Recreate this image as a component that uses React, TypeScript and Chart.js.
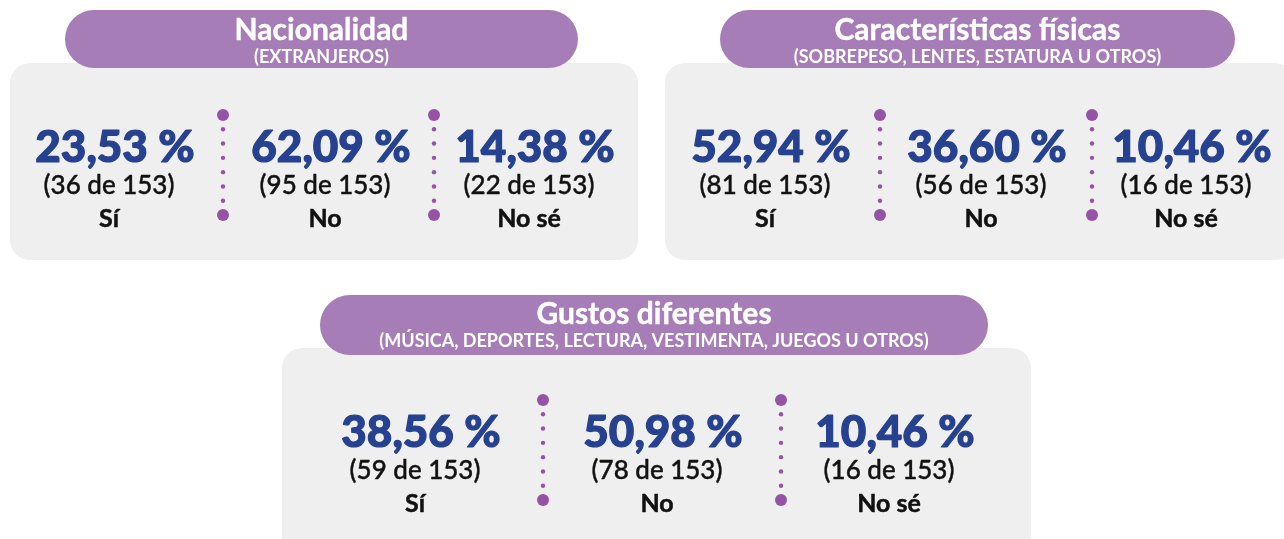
import React, { useEffect, useRef } from "react";
import { Chart, registerables } from "chart.js";

Chart.register(...registerables);

// ---- Data ----
const TOTAL = 153;
const answers = ["Sí", "No", "No sé"];
const titles = ["Nacionalidad", "Características físicas", "Gustos diferentes"];
const subtitles = [
  "(EXTRANJEROS)",
  "(SOBREPESO, LENTES, ESTATURA U OTROS)",
  "(MÚSICA, DEPORTES, LECTURA, VESTIMENTA, JUEGOS U OTROS)",
];
const nacionalidadPct = [23.53, 62.09, 14.38];
const nacionalidadCount = [36, 95, 22];
const fisicasPct = [52.94, 36.6, 10.46];
const fisicasCount = [81, 56, 16];
const gustosPct = [38.56, 50.98, 10.46];
const gustosCount = [59, 78, 16];

const groupPct = [nacionalidadPct, fisicasPct, gustosPct];
const groupCount = [nacionalidadCount, fisicasCount, gustosCount];

// ---- Layout (positions / styles only) ----
const W = 1284;
const H = 539;
const PURPLE_PILL = "#a77db8";
const PANEL_GRAY = "#efefef";
const DOT = "#9453a4";
const BLUE = "#26418f";
const FONT = "Lato";

type Layout = {
  panel: [number, number, number, number];
  pill: [number, number, number, number];
  titleY: number;
  subY: number;
  cols: number[];
  seps: number[];
  dy: number;
};

const layouts: Layout[] = [
  { panel: [10, 63, 628, 197], pill: [65, 10, 513, 58], titleY: 40, subY: 63, cols: [115, 331, 535], seps: [223, 434], dy: 0 },
  { panel: [665, 63, 630, 197], pill: [720, 10, 515, 58], titleY: 40, subY: 63, cols: [771, 987, 1192], seps: [880, 1092], dy: 0 },
  { panel: [282, 348, 749, 210], pill: [320, 295, 668, 60], titleY: 324, subY: 347, cols: [421, 663, 895], seps: [543, 781], dy: 285 },
];

const fmtPct = (v: number) => v.toFixed(2).replace(".", ",") + " %";

function roundRect(ctx: CanvasRenderingContext2D, x: number, y: number, w: number, h: number, r: number) {
  ctx.beginPath();
  ctx.moveTo(x + r, y);
  ctx.lineTo(x + w - r, y);
  ctx.arcTo(x + w, y, x + w, y + r, r);
  ctx.lineTo(x + w, y + h - r);
  ctx.arcTo(x + w, y + h, x + w - r, y + h, r);
  ctx.lineTo(x + r, y + h);
  ctx.arcTo(x, y + h, x, y + h - r, r);
  ctx.lineTo(x, y + r);
  ctx.arcTo(x, y, x + r, y, r);
  ctx.closePath();
}

function drawText(
  ctx: CanvasRenderingContext2D,
  text: string,
  x: number,
  y: number,
  font: string,
  color: string,
  sx = 1,
  stroke = 0
) {
  ctx.save();
  ctx.font = font;
  ctx.fillStyle = color;
  ctx.textAlign = "center";
  ctx.textBaseline = "alphabetic";
  ctx.translate(x, y);
  ctx.scale(sx, 1);
  if (stroke > 0) {
    ctx.strokeStyle = color;
    ctx.lineWidth = stroke;
    ctx.lineJoin = "round";
    ctx.strokeText(text, 0, 0);
  }
  ctx.fillText(text, 0, 0);
  ctx.restore();
}

function separatorPoints() {
  const big: { x: number; y: number }[] = [];
  const small: { x: number; y: number }[] = [];
  layouts.forEach((l) => {
    l.seps.forEach((sx) => {
      const top = 115 + l.dy;
      const bottom = 215 + l.dy;
      big.push({ x: sx, y: top }, { x: sx, y: bottom });
      for (let i = 1; i <= 6; i++) small.push({ x: sx, y: top + ((bottom - top) * i) / 7 });
    });
  });
  return { big, small };
}

const infographicPlugin = {
  id: "infographic",
  beforeDatasetsDraw(chart: any) {
    const ctx: CanvasRenderingContext2D = chart.ctx;
    const xs = chart.scales.x;
    const ys = chart.scales.y;
    const px = (v: number) => xs.getPixelForValue(v);
    const py = (v: number) => ys.getPixelForValue(v);
    ctx.save();
    layouts.forEach((l, gi) => {
      const [x, y, w, h] = l.panel;
      ctx.fillStyle = PANEL_GRAY;
      roundRect(ctx, px(x), py(y), w, h, 20);
      ctx.fill();
      const [qx, qy, qw, qh] = l.pill;
      ctx.fillStyle = PURPLE_PILL;
      roundRect(ctx, px(qx), py(qy), qw, qh, qh / 2);
      ctx.fill();
      const cx = px(qx + qw / 2);
      drawText(ctx, titles[gi], cx, py(l.titleY), `bold 30px ${FONT}`, "#ffffff", 1, 0.4);
      drawText(ctx, subtitles[gi], cx, py(l.subY), `bold 18px ${FONT}`, "#ffffff", 1);

      l.cols.forEach((c, ci) => {
        drawText(ctx, fmtPct(groupPct[gi][ci]), px(c), py(162 + l.dy), `900 44px ${FONT}`, BLUE, 1, 1.2);
        drawText(ctx, `(${groupCount[gi][ci]} de ${TOTAL})`, px(c - 6), py(194 + l.dy), `500 26px ${FONT}`, "#111111", 1, 0.4);
        drawText(ctx, answers[ci], px(c - 6), py(227 + l.dy), `bold 25px ${FONT}`, "#111111", 1, 0.5);
      });
    });
    ctx.restore();
  },
};

export default function App() {
  const ref = useRef<HTMLCanvasElement | null>(null);
  useEffect(() => {
    document.body.style.margin = "0";
    let chart: Chart | null = null;
    let cancelled = false;
    const { big, small } = separatorPoints();
    const make = () => {
      if (cancelled || !ref.current) return;
      chart = new Chart(ref.current, {
        type: "scatter",
        data: {
          datasets: [
            { data: big, pointRadius: 6, pointBackgroundColor: DOT, pointBorderWidth: 0, pointHoverRadius: 6 },
            { data: small, pointRadius: 2.2, pointBackgroundColor: DOT, pointBorderWidth: 0, pointHoverRadius: 2.2 },
          ],
        },
        options: {
          animation: false,
          responsive: false,
          events: [],
          layout: { padding: 0, autoPadding: false },
          plugins: { legend: { display: false }, tooltip: { enabled: false } },
          scales: {
            x: { type: "linear", min: 0, max: W, display: false },
            y: { type: "linear", min: 0, max: H, reverse: true, display: false },
          },
        },
        plugins: [infographicPlugin],
      });
    };
    Promise.all([
      document.fonts.load(`900 44px ${FONT}`),
      document.fonts.load(`bold 28px ${FONT}`),
      document.fonts.load(`500 24px ${FONT}`),
      document.fonts.load(`400 24px ${FONT}`),
    ])
      .catch(() => null)
      .then(make);
    return () => {
      cancelled = true;
      if (chart) chart.destroy();
    };
  }, []);
  return (
    <div style={{ width: W, height: H, background: "#ffffff" }}>
      <canvas ref={ref} width={W} height={H} style={{ display: "block", width: W, height: H }} />
    </div>
  );
}
